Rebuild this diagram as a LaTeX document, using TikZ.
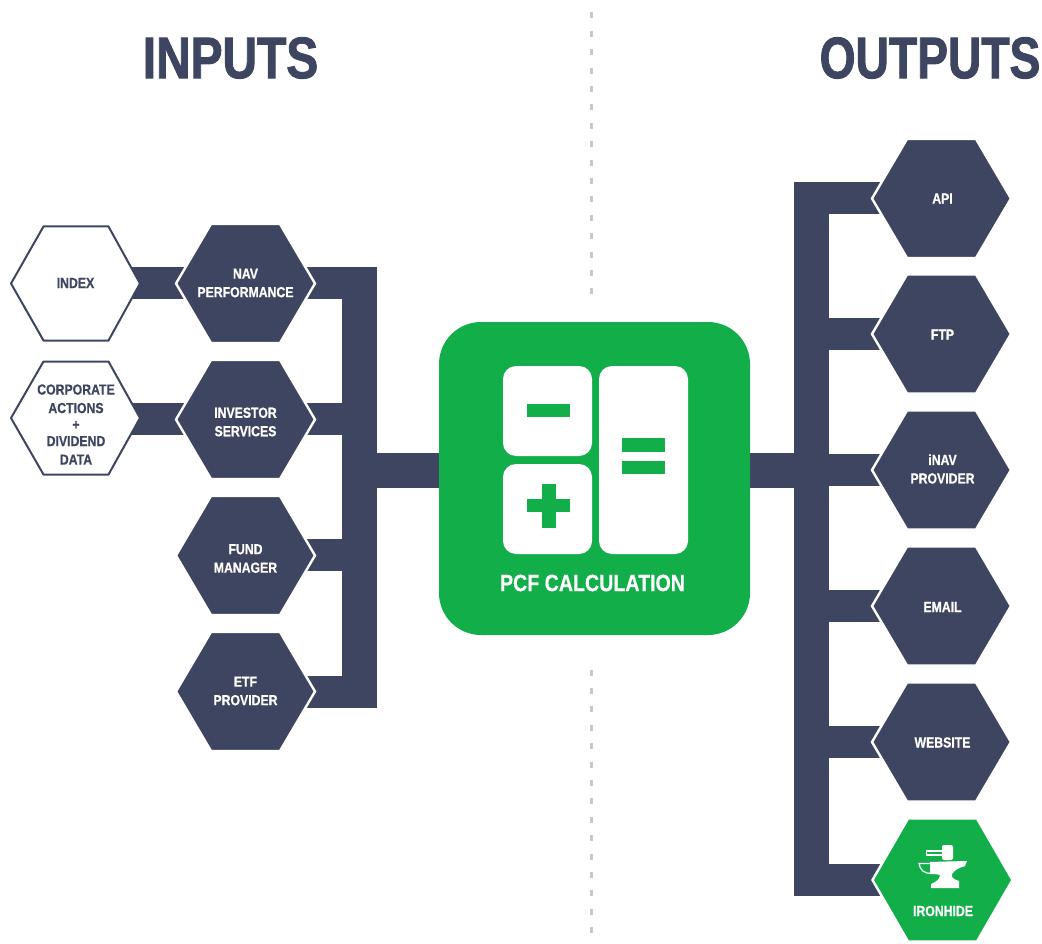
\documentclass[tikz,border=0pt]{standalone}
\usepackage{fontspec}
\newfontfamily\labelfont[FakeStretch=0.84,FakeBold=0.6]{Liberation Sans Bold}
\newfontfamily\titlefont[FakeStretch=0.81,FakeBold=1.5]{Liberation Sans Bold}
\newfontfamily\pcffont[FakeStretch=0.835,FakeBold=0.5]{Liberation Sans Bold}
\definecolor{navy}{HTML}{3E4560}
\definecolor{grn}{HTML}{12AE4A}
\definecolor{dashgray}{HTML}{C8C8C8}
\tikzset{
  x=1pt,y=-1pt,
  hexa/.style={draw=white,line width=2.4pt,fill=navy,line join=miter},
  hexo/.style={draw=navy,line width=2pt,fill=white,line join=round},
  bar/.style={fill=navy,draw=none},
  hlab/.style={white,font=\labelfont\fontsize{14.6}{18.5}\selectfont,align=center,inner sep=0pt},
  olab/.style={navy,font=\labelfont\fontsize{14.6}{18.5}\selectfont,align=center,inner sep=0pt},
  title/.style={navy,font=\titlefont\fontsize{58.5}{59}\selectfont,inner sep=0pt},
  tile/.style={fill=white,draw=none,rounded corners=13pt},
  divider/.style={draw=dashgray,line width=3pt,dash pattern=on 6pt off 12.4pt},
}
\newcommand{\hexpath}[2]{(#1-69.5,#2) -- (#1-34.5,#2-59.5) -- (#1+34.5,#2-59.5) -- (#1+69.5,#2) -- (#1+34.5,#2+59.5) -- (#1-34.5,#2+59.5) -- cycle}
\begin{document}
\begin{tikzpicture}
\useasboundingbox (0,0) rectangle (1042,944);
% divider
\coordinate (d1) at (591.5,12.5); \coordinate (d2) at (591.5,296);
\coordinate (d3) at (591.5,669.5); \coordinate (d4) at (591.5,935);
\draw[divider] (d1) -- (d2);
\draw[divider] (d3) -- (d4);
% titles
\node[title,xscale=1.01] (tin) at (230.5,58) {INPUTS};
\node[title,xscale=0.975] (tout) at (930,58) {OUTPUTS};
% input bars
\fill[bar] (130,267) rectangle (200,299);
\fill[bar] (130,403) rectangle (200,435);
\fill[bar] (290,267) rectangle (377,299);
\fill[bar] (290,403) rectangle (377,435);
\fill[bar] (290,539) rectangle (377,571);
\fill[bar] (290,676) rectangle (377,708);
\fill[bar] (342,267) rectangle (377,708);
\fill[bar] (377,453) rectangle (445,488);
% output bars
\fill[bar] (745,453) rectangle (829,488);
\fill[bar] (794,182) rectangle (829,896);
\foreach \y in {182,318,454,590,726,864}{
  \fill[bar] (829,\y) rectangle (900,\y+32);
}
% outline hexagons
\draw[hexo] (11,283.5) -- (43.5,226.5) -- (108.5,226.5) -- (140,283.5) -- (108.5,340.5) -- (43.5,340.5) -- cycle;
\draw[hexo] (11,418) -- (43.5,361.5) -- (108.5,361.5) -- (140,418) -- (108.5,474.5) -- (43.5,474.5) -- cycle;
\node[olab] (index) at (75.5,283) {INDEX};
\node[olab] (corp) at (76,424.5) {CORPORATE\\ACTIONS\\[-2pt]+\\[-2pt]DIVIDEND\\DATA};
% input hexagons
\foreach \y in {283.5,419.5,555.5,691.5}{ \draw[hexa] \hexpath{245.5}{\y}; }
\node[hlab] (nav) at (245.5,283) {NAV\\PERFORMANCE};
\node[hlab] (inv) at (245.5,422) {INVESTOR\\SERVICES};
\node[hlab] (fund) at (245.5,558.5) {FUND\\MANAGER};
\node[hlab] (etf) at (245.5,691) {ETF\\PROVIDER};
% output hexagons
\foreach \y in {198.5,334,470,606,742}{ \draw[hexa] \hexpath{941.5}{\y}; }
\node[hlab] (api) at (942.5,198.5) {API};
\node[hlab] (ftp) at (942.5,334.5) {FTP};
\node[hlab] (inav) at (942.5,469) {iNAV\\PROVIDER};
\node[hlab] (email) at (942.5,607) {EMAIL};
\node[hlab] (web) at (942.5,742.5) {WEBSITE};
% ironhide
\draw[draw=white,line width=2.4pt,fill=grn] (872.5,880) -- (908,818.5) -- (977,818.5) -- (1012.5,880) -- (977,941.5) -- (908,941.5) -- cycle;
\node[hlab] (iron) at (943,911) {IRONHIDE};
% anvil
\fill[white,rounded corners=2pt] (942,845) rectangle (953,860);
\draw[white,line width=1.2pt] (926.5,851) rectangle (942.5,855);
\path[fill=white] (930,862) -- (946,861.5) -- (967,861) -- (965,866) .. controls (958,868) and (955,870) .. (952,874)
  -- (952,877) .. controls (953,879) and (956,880) .. (959,881) -- (959,888) -- (931,888) -- (931,884)
  .. controls (936,882) and (940,879) .. (940,875) .. controls (937,874) and (933,874) .. (930,874) -- cycle;
\draw[white,line width=1.2pt] (931,863.5) -- (919,863.5) .. controls (920,870) and (924,873.5) .. (931,873.5);
% central box
\fill[grn,rounded corners=42pt] (439,322) rectangle (750,635);
\fill[tile] (503,366) rectangle (592,456);
\fill[tile] (503,464) rectangle (592,554);
\fill[tile] (599,366) rectangle (688,554);
\fill[grn] (527,404) rectangle (570,417);
\fill[grn] (527,499) rectangle (570,512);
\fill[grn] (542,484) rectangle (555.5,528);
\fill[grn] (622,438) rectangle (665,452);
\fill[grn] (622,461) rectangle (665,474);
\node[white,font=\pcffont\fontsize{23.5}{25}\selectfont,inner sep=0pt] (pcf) at (592.5,583) {PCF CALCULATION};
\end{tikzpicture}
\end{document}
